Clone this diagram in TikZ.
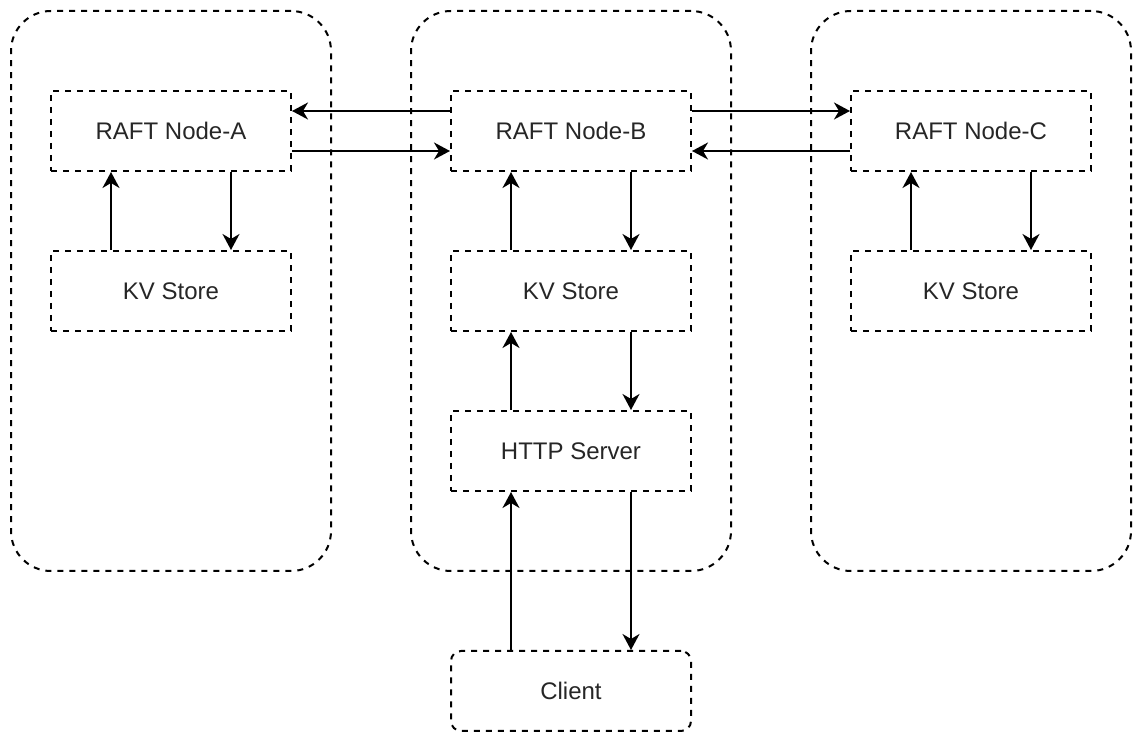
\documentclass[tikz,border=0pt]{standalone}
\usepackage{fontspec}
\setmainfont{Liberation Sans}
\usetikzlibrary{arrows.meta}

\begin{document}
\begin{tikzpicture}[x=0.5pt, y=-0.5pt, line width=1pt,
  every node/.style={draw, dash pattern=on 3pt off 3pt, font=\fontsize{12}{14}\selectfont, text=black!85},
  hostbox/.style={minimum width=160pt, minimum height=280pt, rounded corners=20pt},
  partbox/.style={minimum width=120pt, minimum height=40pt},
  link/.style={-{Stealth[length=8pt, width=8.5pt, inset=2.5pt]}}]
\useasboundingbox (0,0) rectangle (1142,742);
\node[hostbox] (H1) at (171,291) {};
\node[hostbox] (H2) at (571,291) {};
\node[hostbox] (H3) at (971,291) {};
\node[partbox] (RA) at (171,131) {RAFT Node-A};
\node[partbox] (RB) at (571,131) {RAFT Node-B};
\node[partbox] (RC) at (971,131) {RAFT Node-C};
\node[partbox] (KA) at (171,291) {KV Store};
\node[partbox] (KB) at (571,291) {KV Store};
\node[partbox] (KC) at (971,291) {KV Store};
\node[partbox] (HS) at (571,451) {HTTP Server};
\node[partbox, rounded corners=5pt] (CL) at (571,691) {Client};
\draw[link] ([yshift=10pt]RB.west) -- ([yshift=10pt]RA.east);
\draw[link] ([yshift=-10pt]RA.east) -- ([yshift=-10pt]RB.west);
\draw[link] ([yshift=10pt]RB.east) -- ([yshift=10pt]RC.west);
\draw[link] ([yshift=-10pt]RC.west) -- ([yshift=-10pt]RB.east);
\draw[link] ([xshift=-30pt]KA.north) -- ([xshift=-30pt]RA.south);
\draw[link] ([xshift=30pt]RA.south) -- ([xshift=30pt]KA.north);
\draw[link] ([xshift=-30pt]KB.north) -- ([xshift=-30pt]RB.south);
\draw[link] ([xshift=30pt]RB.south) -- ([xshift=30pt]KB.north);
\draw[link] ([xshift=-30pt]KC.north) -- ([xshift=-30pt]RC.south);
\draw[link] ([xshift=30pt]RC.south) -- ([xshift=30pt]KC.north);
\draw[link] ([xshift=-30pt]HS.north) -- ([xshift=-30pt]KB.south);
\draw[link] ([xshift=30pt]KB.south) -- ([xshift=30pt]HS.north);
\draw[link] ([xshift=-30pt]CL.north) -- ([xshift=-30pt]HS.south);
\draw[link] ([xshift=30pt]HS.south) -- ([xshift=30pt]CL.north);
\end{tikzpicture}
\end{document}
